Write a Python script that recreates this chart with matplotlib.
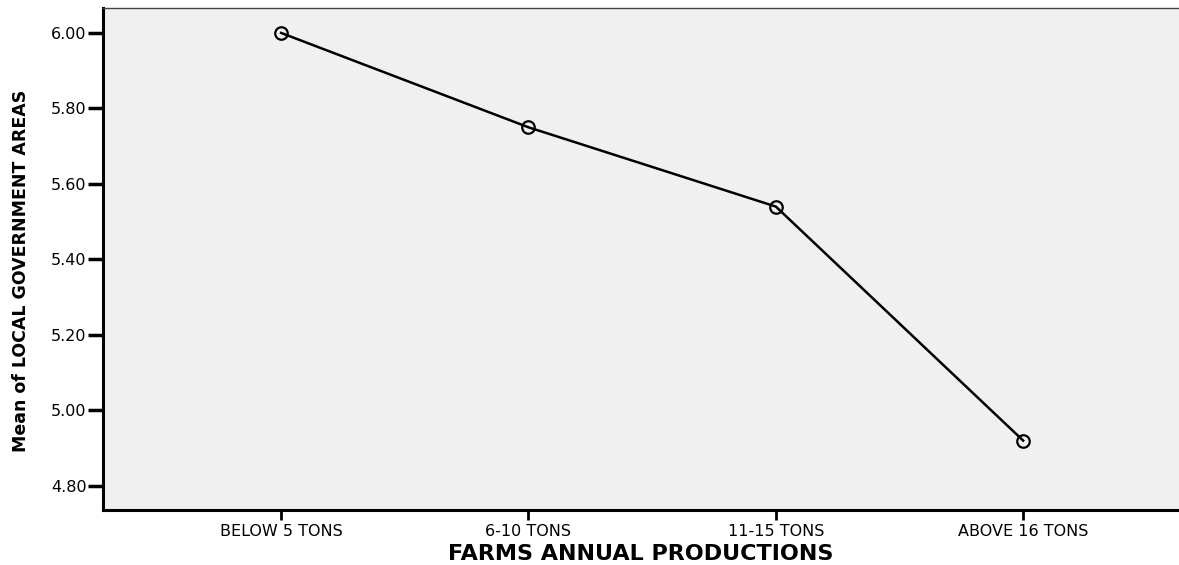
import matplotlib.pyplot as plt

categories = ["BELOW 5 TONS", "6-10 TONS", "11-15 TONS", "ABOVE 16 TONS"]
means = [6.00, 5.75, 5.54, 4.92]
yticks = [4.80, 5.00, 5.20, 5.40, 5.60, 5.80, 6.00]

fig = plt.figure(figsize=(11.79, 5.65), dpi=100)
ax = fig.add_axes([0.0874, 0.0973, 0.9126, 0.8885])
ax.set_facecolor("#f0f0f0")

xs = list(range(len(categories)))
ax.plot(xs, means, color="black", linewidth=1.8, marker="o", markersize=9,
        markerfacecolor="none", markeredgecolor="black", markeredgewidth=1.6)

ax.set_xlim(-0.72, 3.63)
ax.set_ylim(4.736, 6.066)
ax.set_xticks(xs)
ax.set_xticklabels(categories, fontsize=11.5, family="DejaVu Sans")
ax.set_yticks(yticks)
ax.set_yticklabels([f"{v:.2f}" for v in yticks], fontsize=11.5, family="DejaVu Sans")
ax.tick_params(axis="y", length=11, width=2.5, pad=1)
ax.tick_params(axis="x", length=7, width=2, pad=3)

for s in ["left", "bottom"]:
    ax.spines[s].set_linewidth(2.2)
ax.spines["right"].set_visible(False)
ax.spines["top"].set_linewidth(1.0)
ax.spines["top"].set_color("#444444")

ax.set_xlabel("FARMS ANNUAL PRODUCTIONS", fontsize=16, fontweight="bold",
              family="DejaVu Sans", labelpad=4)
ax.set_ylabel("Mean of LOCAL GOVERNMENT AREAS", fontsize=12.5, fontweight="bold",
              family="DejaVu Sans")
ax.yaxis.set_label_coords(-0.068, 0.476)

fig.savefig("out.png", dpi=100)
